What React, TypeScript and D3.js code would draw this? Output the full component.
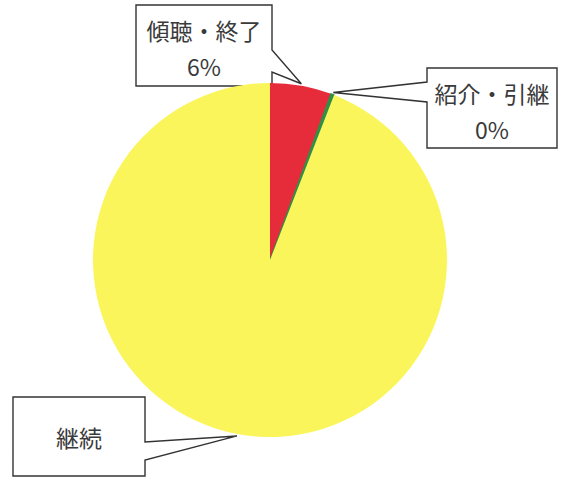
import React from "react";
import * as d3 from "d3";

// ---- data ----
const categories = ["傾聴・終了", "紹介・引継", "継続"];
const values = [5.6, 0.3, 94.1];
const percentLabels = ["6%", "0%", ""];
const colors = ["#E62B3A", "#2F8F45", "#FBF55C"];

// ---- layout ----
const W = 561;
const H = 477;
const CX = 270;
const CY = 260;
const R = 177;

type Box = { x: number; y: number; w: number; h: number; side: "left" | "right"; b0: number; b1: number };
const boxes: Box[] = [
  { x: 136, y: 5, w: 136, h: 81, side: "right", b0: 50, b1: 72 },
  { x: 427, y: 68, w: 130, h: 80, side: "left", b0: 82, b1: 102 },
  { x: 13, y: 397, w: 132, h: 79, side: "right", b0: 442, b1: 460 },
];

export default function App() {
  const pie = d3.pie<number>().sort(null).value((d) => d);
  const arcs = pie(values);
  const arc = d3.arc<d3.PieArcDatum<number>>().innerRadius(0).outerRadius(R);

  const calloutPath = (b: Box, tip: [number, number]) => {
    const p = d3.path();
    const { x, y, w, h } = b;
    if (b.side === "right") {
      p.moveTo(x, y);
      p.lineTo(x + w, y);
      p.lineTo(x + w, b.b0);
      p.lineTo(tip[0], tip[1]);
      p.lineTo(x + w, b.b1);
      p.lineTo(x + w, y + h);
      p.lineTo(x, y + h);
      p.closePath();
    } else {
      p.moveTo(x, y);
      p.lineTo(x + w, y);
      p.lineTo(x + w, y + h);
      p.lineTo(x, y + h);
      p.lineTo(x, b.b1);
      p.lineTo(tip[0], tip[1]);
      p.lineTo(x, b.b0);
      p.closePath();
    }
    return p.toString();
  };

  const font = "'Noto Sans CJK JP', 'Noto Sans', sans-serif";

  return (
    <div style={{ position: "fixed", left: 0, top: 0 }}>
      <svg width={W} height={H} style={{ display: "block", background: "#fff" }}>
        {arcs.map((a, i) => {
          const mid = (a.startAngle + a.endAngle) / 2;
          const tip: [number, number] = [CX + Math.sin(mid) * (R + 2), CY - Math.cos(mid) * (R + 2)];
          const b = boxes[i];
          return (
            <path key={"c" + i} d={calloutPath(b, tip)} fill="#fff" stroke="#333" strokeWidth={1.4} />
          );
        })}
        <g transform={`translate(${CX},${CY})`}>
          {arcs.map((a, i) => (
            <path
              key={"s" + i}
              d={arc(a) || ""}
              fill={colors[i]}
              stroke={i === 1 ? colors[1] : "none"}
              strokeWidth={i === 1 ? 1.2 : 0}
            />
          ))}
        </g>
        {categories.map((c, i) => {
          const b = boxes[i];
          const cx = b.x + b.w / 2;
          const hasPct = percentLabels[i] !== "";
          return (
            <g key={"t" + i} fontFamily={font} fontSize={23} fill="#3a3a3a" textAnchor="middle">
              <text x={cx} y={hasPct ? b.y + 25 : b.y + b.h / 2} dominantBaseline="central">
                {c}
              </text>
              {hasPct && (
                <text x={cx} y={b.y + 61} dominantBaseline="central">
                  {percentLabels[i]}
                </text>
              )}
            </g>
          );
        })}
      </svg>
    </div>
  );
}
